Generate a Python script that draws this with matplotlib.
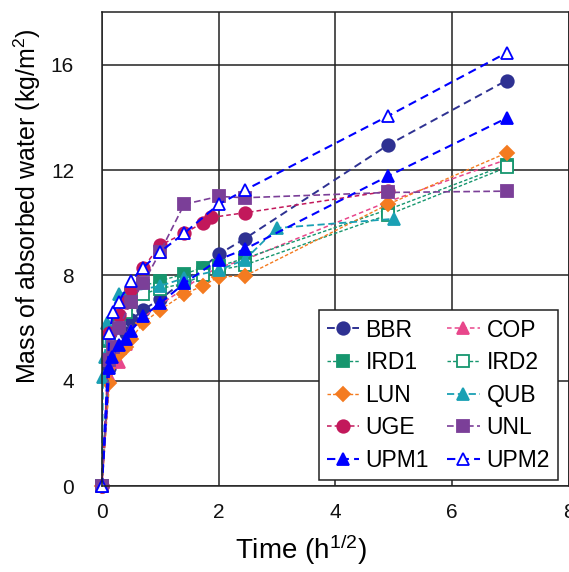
import matplotlib
matplotlib.use('Agg')
import matplotlib.pyplot as plt

plt.rcParams['font.family'] = ['Liberation Sans', 'DejaVu Sans']
plt.rcParams['mathtext.fontset'] = 'custom'
plt.rcParams['mathtext.rm'] = 'Liberation Sans'
plt.rcParams['mathtext.it'] = 'Liberation Sans'

# time in h^1/2, mass in kg/m2
bbr_t = [0, 0.13, 0.29, 0.41, 0.5, 0.71, 1.0, 1.41, 1.73, 2.0, 2.45, 4.9, 6.93]
bbr_y = [0, 4.5, 5.3, 5.8, 6.3, 6.7, 7.1, 7.8, 8.3, 8.8, 9.4, 12.95, 15.4]
cop_t = [0, 0.13, 0.29, 0.41, 0.5, 0.71, 1.0, 1.41, 1.73, 2.0, 2.45, 4.9, 6.93]
cop_y = [0, 4.2, 4.7, 5.4, 5.9, 6.4, 6.9, 7.5, 8.0, 8.3, 8.6, 10.8, 12.4]
ird1_t = [0, 0.13, 0.29, 0.41, 0.5, 0.71, 1.0, 1.41, 1.73, 2.0, 2.45, 4.9, 6.93]
ird1_y = [0, 5.5, 6.3, 6.9, 7.3, 7.6, 7.8, 8.05, 8.3, 8.35, 8.65, 10.5, 12.2]
ird2_t = [0, 0.13, 0.29, 0.41, 0.5, 0.71, 1.0, 1.41, 1.73, 2.0, 2.45, 4.9, 6.93]
ird2_y = [0, 5.6, 6.1, 6.6, 7.0, 7.3, 7.5, 7.7, 8.0, 8.2, 8.4, 10.3, 12.1]
lun_t = [0, 0.13, 0.29, 0.41, 0.5, 0.71, 1.0, 1.41, 1.73, 2.0, 2.45, 4.9, 6.93]
lun_y = [0, 3.9, 5.0, 5.3, 5.6, 6.2, 6.7, 7.3, 7.6, 7.95, 7.98, 10.7, 12.65]
qub_t = [0, 0.02, 0.05, 0.08, 0.29, 0.5, 1.0, 1.41, 2.0, 2.45, 3.0, 5.0]
qub_y = [0, 4.15, 4.9, 6.2, 7.3, 7.4, 7.6, 7.9, 8.2, 8.6, 9.8, 10.15]
uge_t = [0, 0.13, 0.29, 0.41, 0.5, 0.71, 1.0, 1.41, 1.73, 1.87, 2.45, 4.9]
uge_y = [0, 5.8, 6.5, 7.0, 7.5, 8.3, 9.15, 9.6, 10.0, 10.2, 10.38, 11.2]
unl_t = [0, 0.13, 0.19, 0.29, 0.5, 0.71, 1.0, 1.41, 2.0, 2.45, 4.9, 6.93]
unl_y = [0, 4.8, 5.3, 6.0, 7.0, 7.7, 8.9, 10.7, 11.0, 10.95, 11.15, 11.2]
upm1_t = [0, 0.13, 0.17, 0.29, 0.41, 0.5, 0.71, 1.0, 1.41, 2.0, 2.45, 4.9, 6.93]
upm1_y = [0, 4.5, 4.9, 5.35, 5.6, 5.9, 6.45, 6.95, 7.7, 8.6, 9.0, 11.77, 13.97]
upm2_t = [0, 0.13, 0.19, 0.29, 0.5, 0.71, 1.0, 1.41, 2.0, 2.45, 4.9, 6.93]
upm2_y = [0, 5.8, 6.6, 7.0, 7.8, 8.3, 8.9, 9.6, 10.7, 11.24, 14.05, 16.45]

series = [
    ('BBR', bbr_t, bbr_y, '#2E3192', 'o', True, (4, 2.5), 1.4),
    ('COP', cop_t, cop_y, '#E8478B', '^', True, (3, 2), 1.1),
    ('IRD1', ird1_t, ird1_y, '#16966E', 's', True, (2.5, 1.5), 1.0),
    ('IRD2', ird2_t, ird2_y, '#16966E', 's', False, (2.5, 1.5), 1.0),
    ('LUN', lun_t, lun_y, '#F47B20', 'D', True, (2.5, 1.5), 1.0),
    ('QUB', qub_t, qub_y, '#1AA0B4', '^', True, (4, 2), 1.3),
    ('UGE', uge_t, uge_y, '#C2185B', 'o', True, (3, 2), 1.1),
    ('UNL', unl_t, unl_y, '#7B3F98', 's', True, (4, 2), 1.2),
    ('UPM1', upm1_t, upm1_y, '#0000FF', '^', True, (4, 2.5), 1.5),
    ('UPM2', upm2_t, upm2_y, '#0000FF', '^', False, (4, 2.5), 1.5),
]

fig = plt.figure(figsize=(5.69, 5.72), dpi=100)
ax = fig.add_axes([0.179, 0.150, 0.821, 0.829])

handles = []
for name, t, y, c, m, filled, dash, lw in series:
    ms = 8 if m == 's' else 9
    if m == 'D':
        ms = 7
    h, = ax.plot(t, y, linestyle=(0, dash), linewidth=lw, color=c, marker=m,
                 markersize=ms, markerfacecolor=c if filled else 'white',
                 markeredgecolor=c, markeredgewidth=1.3, label=name, clip_on=False)
    handles.append(h)

ax.set_xlim(0, 8)
ax.set_ylim(0, 18)
ax.set_xticks([0, 2, 4, 6, 8])
ax.set_yticks([0, 4, 8, 12, 16])
ax.grid(True, color='#222222', linewidth=1.1)
ax.set_axisbelow(True)
ax.tick_params(length=0, labelsize=15, colors='#111111')
ax.tick_params(axis='y', pad=20)
ax.tick_params(axis='x', pad=12)
for s in ax.spines.values():
    s.set_color('#222222')
    s.set_linewidth(1.1)

ax.set_xlabel('Time (h$^{1/2}$)', fontsize=20)
ax.set_ylabel('Mass of absorbed water (kg/m$^{2}$)', fontsize=18)
ax.xaxis.set_label_coords(0.426, -0.098)
ax.yaxis.set_label_coords(-0.125, 0.59)

# legend fills row by row in the reference
order = [0, 2, 4, 6, 8, 1, 3, 5, 7, 9]
leg = ax.legend([handles[i] for i in order], [series[i][0] for i in order],
                ncol=2, loc='lower right', bbox_to_anchor=(0.976, 0.013),
                borderaxespad=0, fontsize=16.5, handlelength=1.4,
                handletextpad=0.3, columnspacing=0.8, labelspacing=0.42,
                fancybox=False, framealpha=1, edgecolor='#222222',
                borderpad=0.35)
leg.get_frame().set_linewidth(1.1)

fig.savefig('out.png', dpi=100)
